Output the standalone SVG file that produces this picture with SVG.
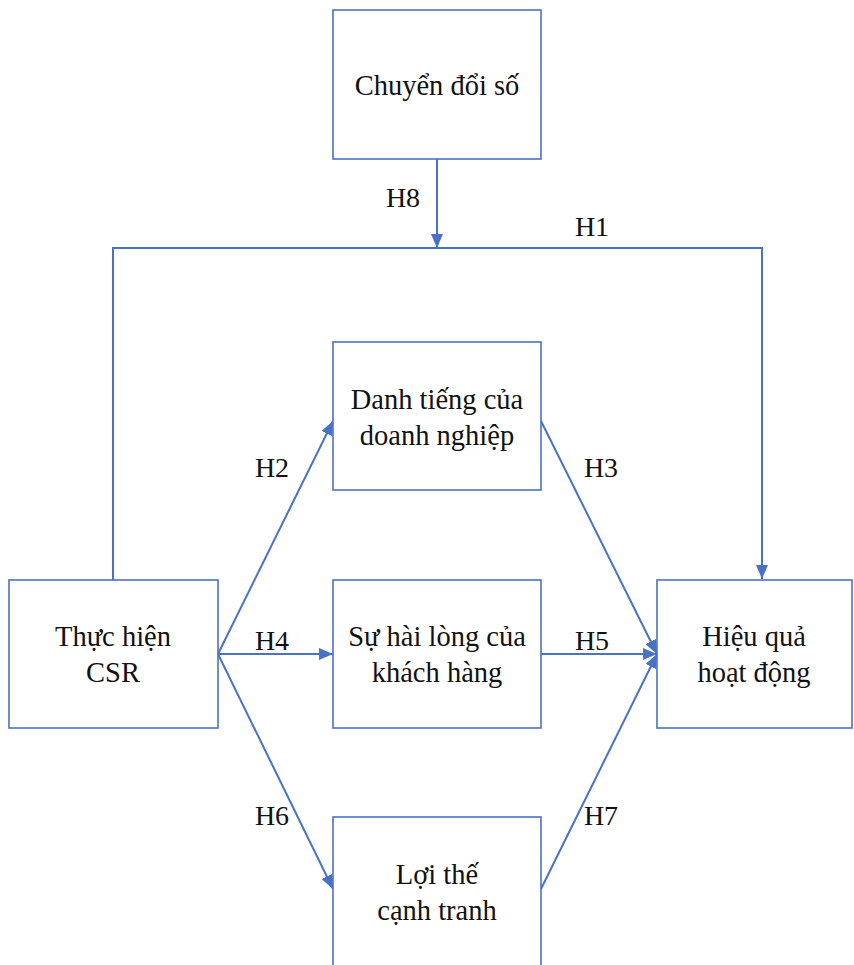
<svg xmlns="http://www.w3.org/2000/svg" width="854" height="965" viewBox="0 0 854 965">
<style>
.box{fill:#fff;stroke:#4A72C4;stroke-width:1.6}
.ln{fill:none;stroke:#4A72C4;stroke-width:2}
text{font-family:'Liberation Serif','Times New Roman',serif;fill:#111;text-anchor:middle}
.t{font-size:28.5px}
.l{font-size:28px}
</style>
<defs>
<marker id="ah" viewBox="0 0 14 12" refX="14" refY="6" markerWidth="14" markerHeight="12" markerUnits="userSpaceOnUse" orient="auto">
<path d="M0,0 L14,6 L0,12 Z" fill="#4A72C4"/>
</marker>
</defs>
<rect width="854" height="965" fill="#fff"/>
<g id="connectors">
<path class="ln" d="M113,580 V248 H762 V579" marker-end="url(#ah)"/>
<path class="ln" d="M437,159 V248" marker-end="url(#ah)"/>
<path class="ln" d="M218,654 L333,421" marker-end="url(#ah)"/>
<path class="ln" d="M218,654 L333,654" marker-end="url(#ah)"/>
<path class="ln" d="M218,654 L333,889" marker-end="url(#ah)"/>
<path class="ln" d="M541,421 L657,654" marker-end="url(#ah)"/>
<path class="ln" d="M541,654 L657,654" marker-end="url(#ah)"/>
<path class="ln" d="M541,889 L657,654" marker-end="url(#ah)"/>
<text class="l" x="403" y="207">H8</text>
<text class="l" x="592" y="236">H1</text>
<text class="l" x="272" y="477">H2</text>
<text class="l" x="601" y="477">H3</text>
<text class="l" x="272" y="650">H4</text>
<text class="l" x="592" y="650">H5</text>
<text class="l" x="272" y="825">H6</text>
<text class="l" x="601" y="825">H7</text>
</g>
<g id="chuyen-doi-so">
<rect class="box" x="333" y="10" width="208" height="149"/>
<text class="t" x="437" y="95">Chuyển đổi số</text>
</g>
<g id="danh-tieng">
<rect class="box" x="333" y="342" width="208" height="148"/>
<text class="t" x="437" y="409">Danh tiếng của</text>
<text class="t" x="437" y="445">doanh nghiệp</text>
</g>
<g id="thuc-hien-csr">
<rect class="box" x="9" y="580" width="209" height="148"/>
<text class="t" x="113" y="646">Thực hiện</text>
<text class="t" x="113" y="682">CSR</text>
</g>
<g id="su-hai-long">
<rect class="box" x="333" y="580" width="208" height="148"/>
<text class="t" x="437" y="646">Sự hài lòng của</text>
<text class="t" x="437" y="682">khách hàng</text>
</g>
<g id="hieu-qua">
<rect class="box" x="657" y="580" width="195" height="148"/>
<text class="t" x="754" y="646">Hiệu quả</text>
<text class="t" x="754" y="682">hoạt động</text>
</g>
<g id="loi-the">
<rect class="box" x="333" y="817" width="208" height="160"/>
<text class="t" x="437" y="884">Lợi thế</text>
<text class="t" x="437" y="920">cạnh tranh</text>
</g>
</svg>
